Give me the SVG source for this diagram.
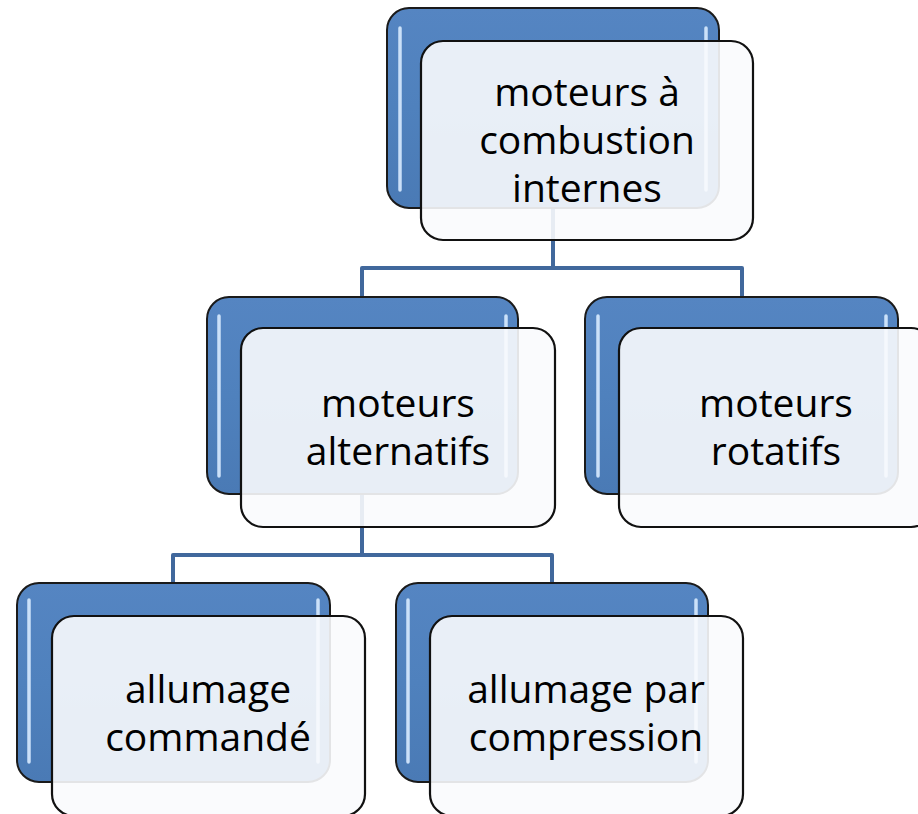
<svg xmlns="http://www.w3.org/2000/svg" width="918" height="814" viewBox="0 0 918 814">
<defs>
<linearGradient id="blueG" x1="0" y1="0" x2="0" y2="1">
<stop offset="0" stop-color="#5585C2"/>
<stop offset="0.5" stop-color="#4F81BD"/>
<stop offset="1" stop-color="#4A7AB5"/>
</linearGradient>
<style>
.blue{fill:url(#blueG);stroke:#1a1a1a;stroke-width:2}
.hl{stroke:#D2E6FC;stroke-width:3.5;stroke-linecap:round;opacity:0.95}
.card{fill:#FAFBFD;fill-opacity:0.9;stroke:#111;stroke-width:2.2}
.lbl{font-family:"Open Sans","Liberation Sans",sans-serif;font-size:39px;fill:#000;text-anchor:middle}
.conn{fill:none;stroke:#41689C;stroke-width:4;stroke-linejoin:round}
</style>
</defs>
<rect width="918" height="814" fill="#FFFFFF"/>
<g id="connectors">
<path class="conn" d="M553 208 V268 M362 297 V268 H742 V297"/>
<path class="conn" d="M362 494 V555 M173 583 V555 H552 V583"/>
</g>
<g id="n1">
<rect class="blue" x="387" y="8" width="332" height="200" rx="22"/>
<line class="hl" x1="400" y1="28" x2="400" y2="190"/>
<line class="hl" x1="706" y1="28" x2="706" y2="190"/>
<rect class="card" x="421" y="41" width="332" height="199" rx="22"/>
<text class="lbl" x="587" y="106">moteurs à</text>
<text class="lbl" x="587" y="154">combustion</text>
<text class="lbl" x="587" y="202">internes</text>
</g>
<g id="n2">
<rect class="blue" x="207" y="297" width="311" height="197" rx="22"/>
<line class="hl" x1="219" y1="316" x2="219" y2="476"/>
<line class="hl" x1="506" y1="316" x2="506" y2="476"/>
<rect class="card" x="241" y="328" width="314" height="199" rx="22"/>
<text class="lbl" x="398" y="417">moteurs</text>
<text class="lbl" x="398" y="465">alternatifs</text>
</g>
<g id="n3">
<rect class="blue" x="585" y="297" width="313" height="197" rx="22"/>
<line class="hl" x1="598" y1="316" x2="598" y2="476"/>
<line class="hl" x1="886" y1="316" x2="886" y2="476"/>
<rect class="card" x="619" y="328" width="314" height="199" rx="22"/>
<text class="lbl" x="776" y="417">moteurs</text>
<text class="lbl" x="776" y="465">rotatifs</text>
</g>
<g id="n4">
<rect class="blue" x="17" y="583" width="313" height="199" rx="22"/>
<line class="hl" x1="29" y1="600" x2="29" y2="762"/>
<line class="hl" x1="318" y1="600" x2="318" y2="762"/>
<rect class="card" x="52" y="616" width="313" height="200" rx="22"/>
<text class="lbl" x="208" y="703">allumage</text>
<text class="lbl" x="208" y="751">commandé</text>
</g>
<g id="n5">
<rect class="blue" x="396" y="583" width="312" height="199" rx="22"/>
<line class="hl" x1="408" y1="600" x2="408" y2="762"/>
<line class="hl" x1="696" y1="600" x2="696" y2="762"/>
<rect class="card" x="430" y="616" width="313" height="200" rx="22"/>
<text class="lbl" x="586" y="703">allumage par</text>
<text class="lbl" x="586" y="751">compression</text>
</g>
</svg>
